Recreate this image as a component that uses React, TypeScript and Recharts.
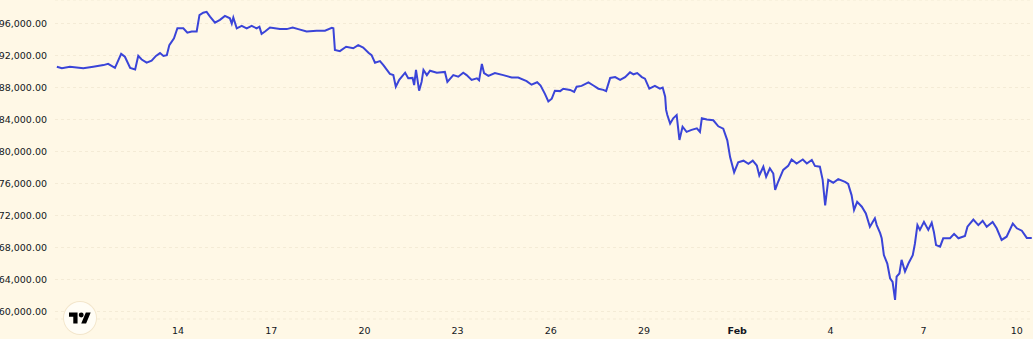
import React from 'react';
import { LineChart, Line, XAxis, YAxis, CartesianGrid } from 'recharts';

// days since Jan 10 (fractional) and price
const days = [
  0.1, 0.26, 0.52, 0.95, 1.27, 1.6, 1.75, 1.97, 2.17, 2.29, 2.46, 2.62, 2.72, 2.83, 2.99, 3.15, 3.29, 3.42, 3.53, 3.64,
  3.72, 3.87, 3.98, 4.17, 4.3, 4.44, 4.6, 4.69, 4.81, 4.92, 5.03, 5.19, 5.35, 5.51, 5.67, 5.73, 5.78, 5.89, 6.05, 6.21,
  6.37, 6.53, 6.62, 6.69, 6.8, 6.96, 7.28, 7.5, 7.69, 7.87, 8.14, 8.46, 8.73, 8.95, 9.0, 9.05, 9.21, 9.41, 9.64, 9.8,
  9.96, 10.13, 10.23, 10.34, 10.5, 10.61, 10.82, 10.93, 11.01, 11.12, 11.31, 11.41, 11.55, 11.6, 11.66, 11.76, 11.84, 11.9, 12.01, 12.11,
  12.33, 12.59, 12.67, 12.86, 13.02, 13.18, 13.29, 13.45, 13.62, 13.69, 13.78, 13.85, 13.99, 14.2, 14.47, 14.74, 14.95, 15.22, 15.38, 15.56,
  15.67, 15.81, 15.92, 16.03, 16.13, 16.3, 16.4, 16.62, 16.75, 16.83, 16.99, 17.21, 17.37, 17.53, 17.69, 17.78, 17.91, 18.07, 18.23, 18.39,
  18.55, 18.66, 18.78, 18.93, 19.03, 19.17, 19.35, 19.51, 19.6, 19.68, 19.71, 19.75, 19.84, 19.94, 20.05, 20.14, 20.24, 20.37, 20.53, 20.7,
  20.8, 20.86, 21.02, 21.23, 21.39, 21.55, 21.68, 21.77, 21.9, 22.03, 22.2, 22.36, 22.5, 22.63, 22.71, 22.84, 22.93, 23.05, 23.16, 23.22,
  23.32, 23.48, 23.64, 23.75, 23.91, 24.11, 24.24, 24.4, 24.5, 24.66, 24.75, 24.83, 24.93, 25.09, 25.25, 25.47, 25.57, 25.68, 25.76, 25.86,
  26.01, 26.14, 26.27, 26.43, 26.49, 26.6, 26.65, 26.72, 26.83, 26.92, 27.0, 27.08, 27.13, 27.22, 27.29, 27.4, 27.51, 27.65, 27.72, 27.8,
  27.88, 28.01, 28.15, 28.26, 28.33, 28.4, 28.53, 28.63, 28.85, 28.98, 29.12, 29.33, 29.41, 29.6, 29.76, 29.9, 30.03, 30.22, 30.35, 30.51,
  30.67, 30.87, 31.0, 31.16, 31.32, 31.48,
];

const prices = [
  90600, 90400, 90600, 90400, 90600, 90800, 90950, 90450, 92200, 91850, 90450, 90250, 91950, 91500, 91100, 91350, 91950, 92300, 91950, 92050,
  93300, 94150, 95400, 95400, 94850, 95000, 95000, 97050, 97350, 97450, 96850, 96100, 96450, 96950, 96650, 96000, 96750, 95400, 95700, 95400,
  95700, 95400, 95600, 94700, 95000, 95500, 95300, 95300, 95500, 95300, 95000, 95100, 95100, 95450, 95400, 92700, 92550, 93100, 92900, 93300,
  93000, 92350, 92050, 91100, 91300, 90800, 89700, 89550, 88100, 88950, 89850, 89150, 89200, 88300, 90200, 87600, 88700, 90200, 89550, 90100,
  89850, 89950, 88700, 89550, 89350, 89850, 89550, 88950, 89150, 88900, 90950, 89800, 89450, 89800, 89550, 89250, 89250, 88800, 88350, 88650,
  88250, 87200, 86250, 86600, 87600, 87550, 87850, 87700, 87450, 88100, 88200, 88650, 88250, 87850, 87700, 87550, 89200, 89300, 88950, 89300,
  89900, 89650, 89800, 89300, 89100, 87850, 88200, 87850, 88000, 86850, 85200, 84550, 83500, 84150, 84550, 81450, 83100, 82450, 82700, 82900,
  82450, 84150, 84000, 83900, 83150, 82850, 81400, 79300, 77400, 78650, 78850, 78450, 78850, 78250, 77000, 78100, 76850, 77900, 77250, 75200,
  76250, 77700, 78200, 79000, 78500, 79000, 78500, 78950, 78200, 78100, 76450, 73250, 76450, 76100, 76550, 76200, 75950, 74550, 72700, 73700,
  73100, 72250, 70600, 71650, 70800, 69800, 69150, 67050, 66000, 64150, 63700, 61450, 64350, 64750, 66450, 65000, 66000, 67050, 68500, 70800,
  70200, 71200, 70200, 71100, 69950, 68300, 68100, 69150, 69150, 69700, 69150, 69450, 70600, 71500, 70800, 71350, 70600, 71200, 70400, 68950,
  69350, 71000, 70400, 70100, 69200, 69200,
];

const xTicks = [4, 7, 10, 13, 16, 19, 22, 25, 28, 31];
const xTickLabels = ['14', '17', '20', '23', '26', '29', 'Feb', '4', '7', '10'];
const yTicks = [60000, 64000, 68000, 72000, 76000, 80000, 84000, 88000, 92000, 96000];

const data = days.map((d, i) => ({ day: d, price: prices[i] }));

const BG = '#fff8e6';
const LINE = '#3a44d8';
const TEXT = '#131722';
const FONT = '"DejaVu Sans", Verdana, sans-serif';

const fmtPrice = (v: number) =>
  v.toLocaleString('en-US', { minimumFractionDigits: 2, maximumFractionDigits: 2 });

function DayTick(props: any) {
  const { x, y, payload } = props;
  const idx = xTicks.indexOf(payload.value);
  const label = xTickLabels[idx] ?? '';
  return (
    <text
      x={x}
      y={y}
      dy="0.71em"
      textAnchor="middle"
      fill={TEXT}
      fontSize={9.5}
      fontFamily={FONT}
      fontWeight={label === 'Feb' ? 700 : 400}
    >
      {label}
    </text>
  );
}

function TvLogo() {
  return (
    <div
      style={{
        position: 'absolute',
        left: 64,
        top: 302,
        width: 32,
        height: 32,
        borderRadius: '50%',
        background: '#fffdf6',
        boxShadow: '0 0 0 1px #f3e6cc',
        display: 'flex',
        alignItems: 'center',
        justifyContent: 'center',
      }}
    >
      <svg width={22} height={12} viewBox="0 4 36 18">
        <path d="M14 22H7V11H0V4h14v18zM28 22h-8l7.5-18h8L28 22z" fill="#000" />
        <circle cx={20} cy={8} r={4} fill="#000" />
      </svg>
    </div>
  );
}

export default function App() {
  return (
    <div style={{ position: 'absolute', left: 0, top: 0, width: 1033, height: 339, background: BG }}>
      <LineChart width={1033} height={339} data={data} margin={{ top: 0, right: 0, left: 0, bottom: 0 }}>
        <CartesianGrid horizontal vertical={false} stroke="#f4ebd6" strokeDasharray="3 3" />
        <XAxis
          dataKey="day"
          type="number"
          domain={[0.04, 31.52]}
          ticks={xTicks}
          tick={<DayTick />}
          axisLine={false}
          tickLine={false}
          height={20}
          interval={0}
          allowDataOverflow
        />
        <YAxis
          type="number"
          domain={[59062.5, 98937.5]}
          ticks={yTicks}
          tickFormatter={fmtPrice}
          tick={{ fill: TEXT, fontSize: 9.5, fontFamily: FONT }}
          axisLine={false}
          tickLine={false}
          width={55}
          interval={0}
          allowDataOverflow
        />
        <Line
          type="linear"
          dataKey="price"
          stroke={LINE}
          strokeWidth={2}
          dot={false}
          isAnimationActive={false}
        />
      </LineChart>
      <TvLogo />
    </div>
  );
}
